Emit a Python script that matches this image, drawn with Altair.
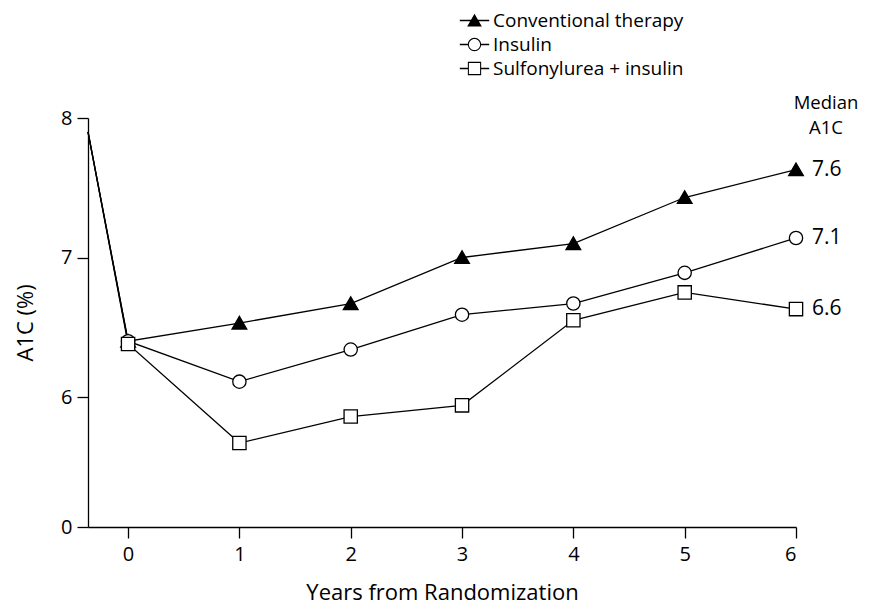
import altair as alt
import pandas as pd

# ---- data ----
years = [-0.36, 0, 1, 2, 3, 4, 5, 6]
series_names = ["Conventional therapy", "Insulin", "Sulfonylurea + insulin"]
conventional = [7.9, 6.40, 6.53, 6.67, 7.00, 7.10, 7.43, 7.63]
insulin = [7.9, 6.40, 6.11, 6.34, 6.59, 6.67, 6.89, 7.14]
sulfonylurea = [7.9, 6.38, 5.67, 5.86, 5.94, 6.55, 6.75, 6.63]
end_labels = ["7.6", "7.1", "6.6"]
y_ticks = [0, 6, 7, 8]
x_ticks = [0, 1, 2, 3, 4, 5, 6]
median_title = ["Median", "A1C"]

FONT = "Open Sans"

rows = []
for name, vals, lbl in zip(series_names, [conventional, insulin, sulfonylurea], end_labels):
    for i, (yr, v) in enumerate(zip(years, vals)):
        rows.append({"year": yr, "a1c": v, "series": name,
                     "lbl": lbl if i == len(years) - 1 else "",
                     "order": i})
df = pd.DataFrame(rows)

median_df = pd.DataFrame([{"year": 6, "a1c": 8, "txt": median_title}])

# marker shapes (unit square [-1,1])
tri = "M0,-0.95L1.05,0.85L-1.05,0.85Z"
circ = "M0.95,0A0.95,0.95,0,1,1,-0.95,0A0.95,0.95,0,1,1,0.95,0Z"
sq = "M-0.95,-0.95H0.95V0.95H-0.95Z"

# legend symbols: marker + short line on each side (all filled shapes)
segL = "M-2.1,-0.09H-0.9V0.09H-2.1Z"
segR = "M0.9,-0.09H2.1V0.09H0.9Z"
tri_leg = tri + "M-2.1,-0.09H2.1V0.09H-2.1Z"
circ_leg = (circ +
            "M0.8,0A0.8,0.8,0,1,0,-0.8,0A0.8,0.8,0,1,0,0.8,0Z" + segL + segR)
sq_leg = sq + "M-0.8,-0.8V0.8H0.8V-0.8Z" + segL + segR

W, H = 708, 409

x_enc = alt.X("year:Q",
              scale=alt.Scale(domain=[-0.36, 6], nice=False, zero=False),
              axis=alt.Axis(values=x_ticks, title="Years from Randomization",
                            grid=False, tickSize=11, labelPadding=6,
                            labelFontSize=20,
                            titleX=W / 2, titleY=72, titleBaseline="alphabetic",
                            titleFontSize=22, format="d"))
y_enc = alt.Y("a1c:Q",
              scale=alt.Scale(domain=[0, 5.2, 8], range=[H, 390.6, 0], nice=False, zero=False),
              axis=alt.Axis(values=y_ticks, title="A1C (%)", grid=False,
                            tickSize=11, labelPadding=5, format="d",
                            labelFontSize=20, titleFontSize=22,
                            titleX=-63, titleY=H / 2, titleAngle=-90,
                            titleAlign="center", titleBaseline="middle"))

base = alt.Chart(df)

lines = base.mark_line(color="black", strokeWidth=1.3).encode(
    x=x_enc, y=y_enc, detail="series:N", order="order:Q")

pts_data = base.transform_filter("datum.year >= 0")

points = pts_data.mark_point(filled=False, stroke="black", strokeWidth=1.3,
                             size=196, opacity=1).encode(
    x="year:Q", y="a1c:Q",
    shape=alt.Shape("series:N", scale=alt.Scale(domain=series_names, range=[tri, circ, sq]),
                    legend=None),
    fill=alt.Fill("series:N", scale=alt.Scale(domain=series_names,
                                               range=["black", "white", "white"]),
                  legend=None),
)

legend_layer = pts_data.mark_point(filled=True, color="black", size=196, opacity=0,
                                   strokeWidth=0).encode(
    x="year:Q", y="a1c:Q",
    shape=alt.Shape("series:N",
                    scale=alt.Scale(domain=series_names, range=[tri_leg, circ_leg, sq_leg]),
                    legend=alt.Legend(title=None, orient="none", legendX=377, legendY=-107,
                                      labelFont=FONT, labelFontSize=19, labelColor="black",
                                      labelOffset=9, rowPadding=4, padding=0,
                                      labelLimit=0,
                                      symbolSize=196, symbolOpacity=1,
                                      symbolFillColor="black", symbolStrokeWidth=0,
                                      symbolOffset=0)),
)

end_text = base.transform_filter("datum.year == 6").mark_text(
    align="left", baseline="middle", dx=16, font=FONT, fontSize=21, color="black"
).encode(x="year:Q", y="a1c:Q", text="lbl:N")

median_text = alt.Chart(median_df).mark_text(
    align="center", baseline="middle", dx=30, dy=-15, lineHeight=25,
    font=FONT, fontSize=18.5, color="black"
).encode(x="year:Q", y="a1c:Q", text="txt")

chart = alt.layer(legend_layer, lines, points, end_text, median_text).resolve_scale(
    shape="independent"
).properties(
    width=W, height=H,
    autosize=alt.AutoSizeParams(type="none"),
    padding={"left": 80, "top": 110, "right": 65, "bottom": 78},
).configure_view(stroke=None).configure_axis(
    domainColor="black", tickColor="black", labelColor="black", titleColor="black",
    labelFont=FONT, titleFont=FONT,
    titleFontWeight="normal", domainWidth=1.3, tickWidth=1.3
)

chart.save("out.html", embed_options={"renderer": "svg", "actions": False})
